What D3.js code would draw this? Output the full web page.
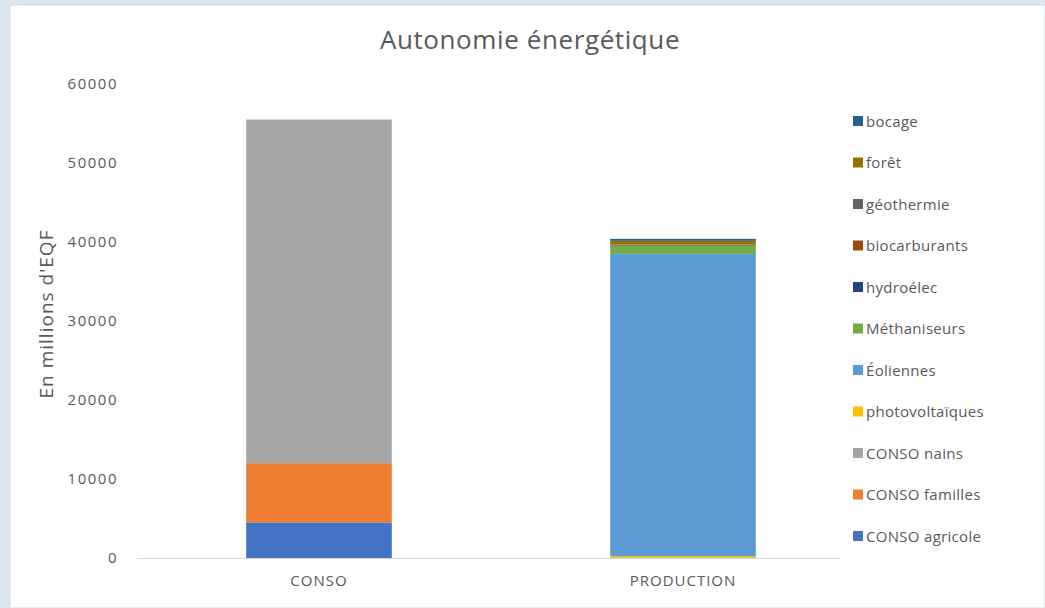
<!DOCTYPE html>
<html>
<head>
<meta charset="utf-8">
<script src="https://cdn.jsdelivr.net/npm/d3@7"></script>
<style>
  html, body { margin: 0; padding: 0; background: #dde7f2; }
  svg { display: block; }
  text { font-family: "Open Sans", "Noto Sans", sans-serif; fill: #595959; }
</style>
</head>
<body>
<svg id="chart" width="1045" height="608"></svg>
<script>
// Categories on the x axis
const categories = ["CONSO", "PRODUCTION"];

// Series, bottom of the stack first
const seriesNames = [
  "CONSO agricole", "CONSO familles", "CONSO nains",
  "photovoltaïques", "Éoliennes", "Méthaniseurs", "hydroélec",
  "biocarburants", "géothermie", "forêt", "bocage"
];
const seriesColors = [
  "#4472C4", "#ED7D31", "#A5A5A5",
  "#FFC000", "#5B9BD5", "#70AD47", "#264478",
  "#9E480E", "#636363", "#997300", "#255E91"
];

// Values per series: [CONSO, PRODUCTION], in millions d'EQF
const consoAgricole   = [4500, 0];
const consoFamilles   = [7500, 0];
const consoNains      = [43500, 0];
const photovoltaiques = [0, 200];
const eoliennes       = [0, 38300];
const methaniseurs    = [0, 1000];
const hydroelec       = [0, 50];
const biocarburants   = [0, 100];
const geothermie      = [0, 50];
const foret           = [0, 450];
const bocage          = [0, 250];

const yTicks = [0, 10000, 20000, 30000, 40000, 50000, 60000];

const seriesValues = [
  consoAgricole, consoFamilles, consoNains,
  photovoltaiques, eoliennes, methaniseurs, hydroelec,
  biocarburants, geothermie, foret, bocage
];

// Table for d3.stack
const table = categories.map((c, i) => {
  const row = { category: c };
  seriesNames.forEach((s, j) => { row[s] = seriesValues[j][i]; });
  return row;
});

const svg = d3.select("#chart");

// White chart area inside the light frame
svg.append("rect")
  .attr("x", 10).attr("y", 5)
  .attr("width", 1035).attr("height", 603)
  .attr("fill", "#ffffff")
  .attr("stroke", "#cfdbe8").attr("stroke-width", 1);

const x = d3.scaleBand()
  .domain(categories)
  .range([137, 865])
  .paddingInner(0.6)
  .paddingOuter(0.3);

const y = d3.scaleLinear()
  .domain([0, 60000])
  .range([558, 84]);

const stack = d3.stack().keys(seriesNames);
const layers = stack(table);

const color = d3.scaleOrdinal().domain(seriesNames).range(seriesColors);

// Stacked bars
svg.append("g")
  .selectAll("g")
  .data(layers)
  .join("g")
    .attr("fill", d => color(d.key))
  .selectAll("rect")
  .data(d => d)
  .join("rect")
    .attr("x", d => x(d.data.category))
    .attr("width", x.bandwidth())
    .attr("y", d => y(d[1]))
    .attr("height", d => y(d[0]) - y(d[1]));

// Category axis line
svg.append("line")
  .attr("x1", 137).attr("x2", 840)
  .attr("y1", y(0) + 0.5).attr("y2", y(0) + 0.5)
  .attr("stroke", "#d9d9d9").attr("stroke-width", 1);

// Y axis (labels only)
const yAxis = d3.axisLeft(y).tickValues(yTicks).tickSize(0).tickPadding(0)
  .tickFormat(d3.format("d"));
const gy = svg.append("g").attr("transform", "translate(118,0)").call(yAxis);
gy.select(".domain").remove();
gy.selectAll("text")
  .attr("font-size", 15)
  .attr("letter-spacing", 1.5)
  .attr("font-family", "'Open Sans', sans-serif")
  .attr("fill", "#595959");

// X axis labels
const xAxis = d3.axisBottom(x).tickSize(0).tickPadding(0);
const gx = svg.append("g").attr("transform", "translate(0,575)").call(xAxis);
gx.select(".domain").remove();
gx.selectAll("text")
  .attr("font-size", 15)
  .attr("letter-spacing", 1)
  .attr("font-family", "'Open Sans', sans-serif")
  .attr("fill", "#595959");

// Title
svg.append("text")
  .attr("x", 530).attr("y", 49)
  .attr("text-anchor", "middle")
  .attr("font-size", 26)
  .attr("letter-spacing", 0.6)
  .text("Autonomie énergétique");

// Y axis title
svg.append("text")
  .attr("transform", "translate(53,314) rotate(-90)")
  .attr("text-anchor", "middle")
  .attr("font-size", 19)
  .attr("letter-spacing", 1)
  .text("En millions d'EQF");

// Legend, top of the stack first
const legendNames = seriesNames.slice().reverse();
const legend = svg.append("g").attr("transform", "translate(853,0)");
const item = legend.selectAll("g")
  .data(legendNames)
  .join("g")
    .attr("transform", (d, i) => `translate(0, ${121 + i * 41.5})`);
item.append("rect")
  .attr("x", 0).attr("y", -5)
  .attr("width", 10).attr("height", 10)
  .attr("fill", d => color(d));
item.append("text")
  .attr("x", 13).attr("y", 5.5)
  .attr("font-size", 15)
  .attr("letter-spacing", 0.3)
  .text(d => d);
</script>
</body>
</html>
